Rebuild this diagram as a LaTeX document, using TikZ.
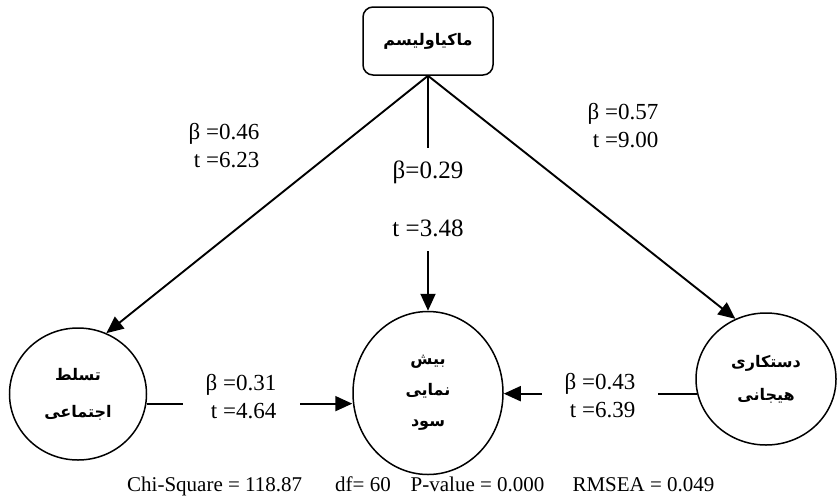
\documentclass[tikz,border=0pt]{standalone}
\usepackage{fontspec}
\setmainfont{Liberation Serif}
\newfontfamily\arabicfont[Script=Arabic]{DejaVu Sans}
\TeXXeTstate=1
\usetikzlibrary{arrows.meta,shapes.geometric}
\newcommand{\fa}[1]{{\arabicfont\bfseries\beginR #1\endR}}

\begin{document}
\begin{tikzpicture}[x=1pt,y=-1pt,
  construct/.style={rounded corners=10pt,draw,line width=1.5pt,minimum width=130pt,minimum height=68pt,font=\fontsize{16}{18}\selectfont},
  latent/.style={ellipse,draw,line width=1.5pt,inner sep=0pt,align=center},
  coef/.style={fill=white,inner sep=0pt,align=right,font=\fontsize{23}{28}\selectfont},
  arrow/.style={-{Triangle[length=17pt,width=15pt]},line width=1.9pt}
]
\useasboundingbox (0,0) rectangle (837,501);
\node[construct] (mak) at (428,41) {\fa{ماکیاولیسم}};
\node[latent,minimum width=137pt,minimum height=132pt,font=\fontsize{16}{37}\selectfont] (tasallot) at (78,394) {\fa{تسلط}\\\fa{اجتماعی}};
\node[latent,minimum width=150pt,minimum height=163pt,font=\fontsize{16}{31}\selectfont] (bish) at (428,393) {\fa{بیش}\\\fa{نمایی}\\\fa{سود}};
\node[latent,minimum width=140pt,minimum height=132pt,font=\fontsize{16}{33}\selectfont] (dastkari) at (766,379) {\fa{دستکاری}\\\fa{هیجانی}};
% paths
\draw[arrow] (mak.south) -- (tasallot.65);
\draw[arrow] (mak.south) -- (dastkari.117);
\draw[arrow] (mak) -- (bish);
\draw[arrow] (tasallot.-8) -- (tasallot.-8 -| bish.west);
\draw[arrow] (dastkari.192) -- (dastkari.192 -| bish.east);
% coefficients
\node[coef] (c46) at (224,146) {β =0.46\\t =6.23};
\node[coef] (c57) at (623,126) {β =0.57\\t =9.00};
\node[coef,align=center,minimum width=90pt,minimum height=103pt,font=\fontsize{25}{58}\selectfont] (c29) at (428,199) {β=0.29\\t =3.48};
\node[coef,minimum width=117pt,minimum height=44pt] (c31) at (241,397) {β =0.31\\t =4.64};
\node[coef,minimum width=116pt,minimum height=44pt] (c43) at (600,396) {β =0.43\\t =6.39};
% fit indices
\node[anchor=west,inner sep=0pt,font=\fontsize{21}{24}\selectfont] (fit) at (127,486) {Chi-Square = 118.87\hspace{33pt}df= 60\hspace{20pt}P-value = 0.000\hspace{28pt}RMSEA = 0.049};
\end{tikzpicture}
\end{document}
